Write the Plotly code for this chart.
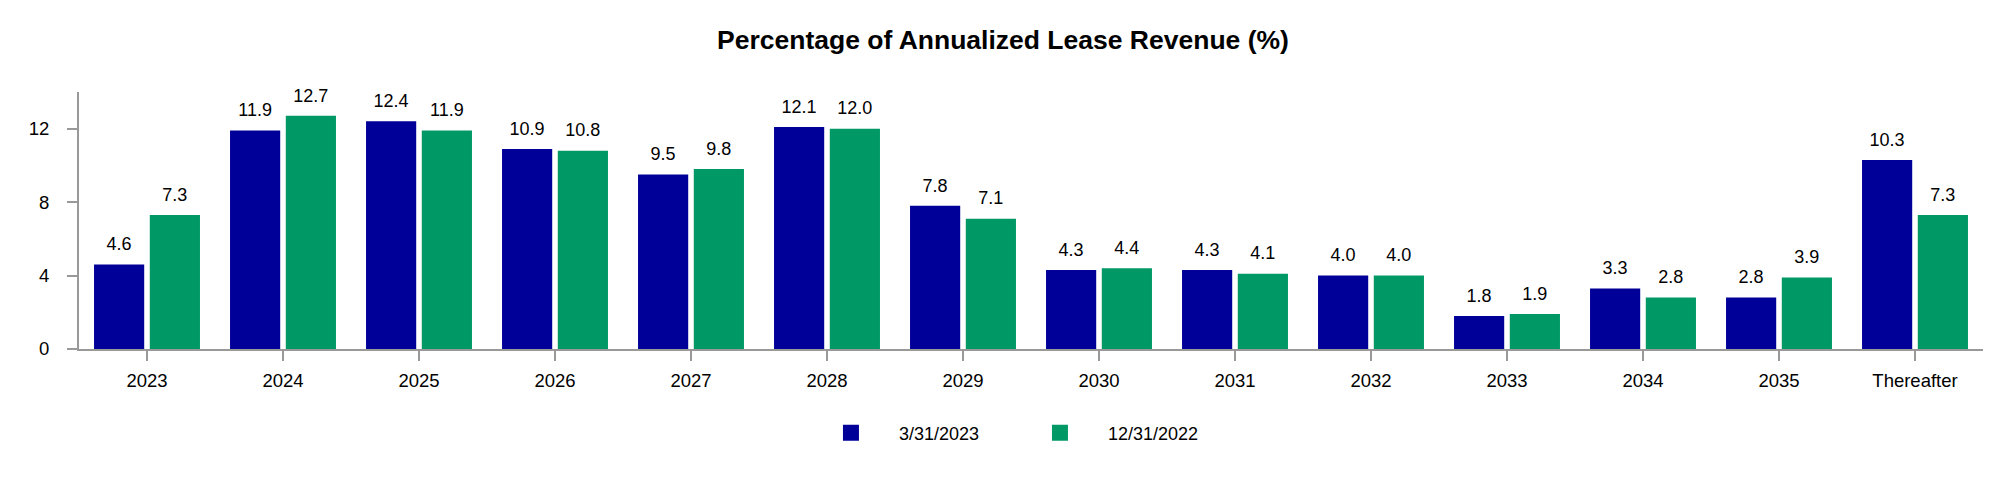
import plotly.graph_objects as go

# Lease expiration schedule
categories = ["2023", "2024", "2025", "2026", "2027", "2028", "2029", "2030",
              "2031", "2032", "2033", "2034", "2035", "Thereafter"]
q1_2023 = [4.6, 11.9, 12.4, 10.9, 9.5, 12.1, 7.8, 4.3, 4.3, 4.0, 1.8, 3.3, 2.8, 10.3]
ye_2022 = [7.3, 12.7, 11.9, 10.8, 9.8, 12.0, 7.1, 4.4, 4.1, 4.0, 1.9, 2.8, 3.9, 7.3]
series_names = ["3/31/2023", "12/31/2022"]
y_ticks = [0, 4, 8, 12]

BLUE = "#000099"
GREEN = "#009966"
FONT = "Liberation Sans, Arial, sans-serif"

fig = go.Figure()

for name, vals, col in zip(series_names, [q1_2023, ye_2022], [BLUE, GREEN]):
    # bars
    fig.add_trace(go.Bar(x=categories, y=vals, name=name, marker_color=col,
                         marker_line_width=0, offsetgroup=name,
                         alignmentgroup="a", showlegend=False))
    # value labels, lifted a bit above bar tops
    fig.add_trace(go.Scatter(x=categories, y=vals, mode="markers+text",
                             text=[f"{v:.1f}" for v in vals],
                             textposition="top center",
                             textfont=dict(size=18, color="#000000", family=FONT),
                             marker=dict(size=14, opacity=0),
                             offsetgroup=name, alignmentgroup="a",
                             showlegend=False, hoverinfo="skip", cliponaxis=False))
    # legend entry
    fig.add_trace(go.Scatter(x=[None], y=[None], mode="markers", name=name,
                             marker=dict(symbol="square", size=18, color=col)))

fig.update_layout(
    width=2012, height=484,
    paper_bgcolor="white", plot_bgcolor="white",
    font=dict(family=FONT, size=18, color="#000000"),
    title=dict(text="<b>Percentage of Annualized Lease Revenue (%)</b>",
               x=0.4985, xanchor="center", y=0.917, yanchor="middle",
               font=dict(size=26.5, color="#000000", family=FONT)),
    margin=dict(l=79, r=29, t=92, b=135),
    barmode="group", bargap=0.18, bargroupgap=0.1,
    scattermode="group", scattergap=0.18,
    legend=dict(orientation="h", x=0.49, xanchor="center", y=-0.327,
                yanchor="middle", font=dict(size=18, family=FONT),
                itemwidth=86, entrywidth=108),
)

fig.update_xaxes(type="category", showline=True, linecolor="#999999", linewidth=2,
                 ticks="outside", ticklen=10, tickcolor="#999999", tickwidth=2,
                 showgrid=False, tickfont=dict(size=18.5), ticklabelstandoff=4)
fig.update_yaxes(range=[0, 14], tickvals=y_ticks, showline=True, linecolor="#999999",
                 linewidth=2, ticks="outside", ticklen=10, tickcolor="#999999",
                 tickwidth=2, showgrid=False, zeroline=False,
                 tickfont=dict(size=18.5), ticklabelstandoff=14)

# page body has a default margin; drop it so the figure sits at the window corner
fig.write_html("out.html", config={"displayModeBar": False},
               post_script="document.body.style.margin='0';")
